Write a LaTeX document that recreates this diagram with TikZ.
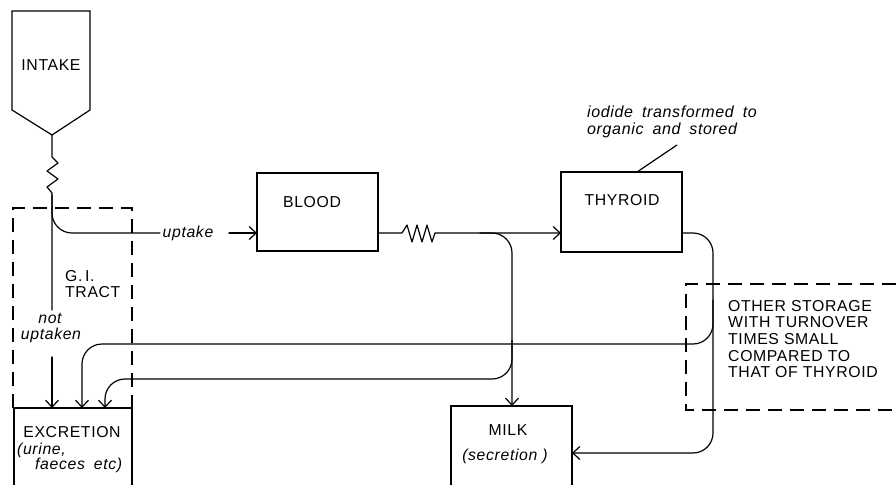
\documentclass[tikz,border=0pt]{standalone}
\usepackage{fontspec}
\setmainfont{Liberation Sans}[LetterSpace=4]
\usetikzlibrary{arrows.meta}
\tikzset{
  flow/.style={line width=1.2pt, line cap=round, line join=round},
  tip/.style={-{Straight Barb[length=7pt,width=13pt,line width=1.2pt]}},
  box/.style={line width=1.2pt},
  dashbox/.style={line width=1.2pt, dash pattern=on 14pt off 8pt},
  lbl/.style={font=\fontsize{15.8}{16.5}\selectfont, inner sep=0pt},
  ilbl/.style={font=\fontsize{15.8}{16.5}\selectfont\itshape, inner sep=0pt},
  rc/.style={rounded corners=20pt}
}
\begin{document}
\begin{tikzpicture}[x=1pt,y=-1pt]
\useasboundingbox (0,0) rectangle (896,485);
% ---------- boxes ----------
\draw[box] (12,11) -- (90,11) -- (90,110) -- (52,135) -- (12,110) -- cycle;
\node[lbl] (intake) at (51,65) {INTAKE};
\coordinate (intakeTip) at (52,135);

\draw[box] (257,173) rectangle (378,251);
\node[lbl] (blood) at (312,202) {BLOOD};
\coordinate (bloodW) at (257,233);
\coordinate (bloodE) at (378,233);

\draw[box] (561,172) rectangle (682,252);
\node[lbl] (thyroid) at (622,200) {THYROID};
\coordinate (thyW) at (561,233);
\coordinate (thyE) at (682,233);
\coordinate (thyTop) at (637,172);

\draw[box] (451,485) -- (451,406) -- (572,406) -- (572,485);
\node[lbl] (milk) at (508,430) {MILK};
\node[ilbl] (secr) at (505,456) {(secretion\ )};
\coordinate (milkTop) at (512,406);
\coordinate (milkE) at (572,453);

\draw[box] (14,485) -- (14,408) -- (132,408) -- (132,485);
\node[lbl] (excr) at (72,432) {EXCRETION};
\node[ilbl, anchor=west] (urine) at (17,450) {(urine,};
\node[ilbl, anchor=west] (faeces) at (35,465) {faeces\hspace{9pt}etc)};
\coordinate (exA) at (52,408);
\coordinate (exB) at (82,408);
\coordinate (exC) at (105,408);

% dashed compartments
\draw[dashbox] (13,408) -- (13,208) -- (132,208) -- (132,408);
\node[lbl, align=left, anchor=north west] (gi) at (65,270) {G.\,I.\\TRACT};
\draw[dashbox] (896,284) -- (686,284) -- (686,410) -- (896,410);
\node[lbl, align=left, anchor=north west, font=\fontsize{15.8}{16.6}\selectfont] (other) at (728,300)
  {OTHER STORAGE\\WITH TURNOVER\\TIMES SMALL\\COMPARED TO\\THAT OF THYROID};

% annotation
\node[ilbl, align=left, anchor=north west, font=\fontsize{16}{17}\selectfont\itshape] (iodide) at (587,106)
  {iodide\hspace{9pt}transformed\hspace{9pt}to\\organic\hspace{9pt}and\hspace{9pt}stored};
\coordinate (iodLead) at (677,145);
\draw[flow] (iodLead) -- (thyTop);

% ---------- flows ----------
% intake line with resistance
\draw[flow] (intakeTip) -- (52,157) -- (58,163) -- (47,171) -- (58,179) -- (47,187) -- (52,193) -- (52,310);
% uptake branch
\draw[flow, rc] (52,195) -- (52,233) -- (160,233);
\node[ilbl] (uptake) at (188,233) {uptake};
\draw[flow, tip] (229,233) -- (bloodW);
% not uptaken
\node[ilbl] (not) at (50,318) {not};
\node[ilbl] (uptaken) at (51,335) {uptaken};
\draw[flow, tip] (52,357) -- (exA);

% blood -> thyroid with resistance
\draw[flow, tip] (bloodE) -- (402,233) -- (407,225) -- (412,242) -- (417,225) -- (422,242) -- (427,225) -- (432,242) -- (435,233) -- (thyW);
% blood -> milk
\draw[flow, rc, tip] (480,233) -- (512,233) -- (milkTop);
% blood -> excretion
\draw[flow, rc, tip] (512,340) -- (512,379) -- (105,379) -- (exC);

% thyroid -> milk
\draw[flow, rc, tip] (thyE) -- (713,233) -- (713,453) -- (milkE);
% thyroid -> excretion
\draw[flow, rc, tip] (713,300) -- (713,344) -- (82,344) -- (exB);
\end{tikzpicture}
\end{document}
